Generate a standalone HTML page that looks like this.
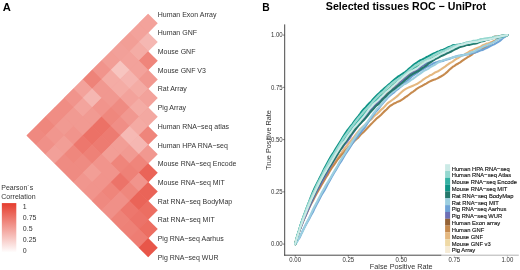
<!DOCTYPE html>
<html><head><meta charset="utf-8"><style>
html,body{margin:0;padding:0;background:#fff;width:520px;height:270px;overflow:hidden}
svg{display:block;will-change:transform;filter:blur(0.3px)}
text{font-family:"Liberation Sans",sans-serif;fill:#333}
.b{font-weight:bold;fill:#000}
.lg{fill:#111;stroke:#111;stroke-width:0.15px}
</style></head><body>
<svg width="520" height="270" viewBox="0 0 520 270" xmlns="http://www.w3.org/2000/svg">
<text x="2.8" y="10.9" class="b" font-size="11.2">A</text>
<polygon points="148.2,14.0 26.71,135.49 148.2,256.97" fill="#f1948c"/>
<polygon points="148.20,13.80 157.74,23.34 148.20,32.89 138.66,23.34" fill="#f3a29b"/>
<polygon points="138.85,23.14 148.40,32.69 138.85,42.23 129.31,32.69" fill="#f3a29b"/>
<polygon points="148.20,32.49 157.74,42.04 148.20,51.58 138.66,42.04" fill="#f5b7b2"/>
<polygon points="129.51,32.49 139.05,42.04 129.51,51.58 119.96,42.04" fill="#f29e96"/>
<polygon points="138.85,41.84 148.40,51.38 138.85,60.93 129.31,51.38" fill="#f4aca5"/>
<polygon points="148.20,51.18 157.74,60.73 148.20,70.27 138.66,60.73" fill="#ef857b"/>
<polygon points="120.16,41.84 129.71,51.38 120.16,60.93 110.62,51.38" fill="#f2a099"/>
<polygon points="129.51,51.18 139.05,60.73 129.51,70.27 119.96,60.73" fill="#f3a29b"/>
<polygon points="138.85,60.53 148.40,70.07 138.85,79.62 129.31,70.07" fill="#f3a29b"/>
<polygon points="148.20,69.87 157.74,79.42 148.20,88.96 138.66,79.42" fill="#f19890"/>
<polygon points="110.82,51.18 120.36,60.73 110.82,70.27 101.27,60.73" fill="#f29e96"/>
<polygon points="120.16,60.53 129.71,70.07 120.16,79.62 110.62,70.07" fill="#f7c5c0"/>
<polygon points="129.51,69.87 139.05,79.42 129.51,88.96 119.96,79.42" fill="#f5b5b0"/>
<polygon points="138.85,79.22 148.40,88.76 138.85,98.31 129.31,88.76" fill="#f4aca5"/>
<polygon points="148.20,88.56 157.74,98.11 148.20,107.65 138.66,98.11" fill="#f3a29b"/>
<polygon points="101.47,60.53 111.02,70.07 101.47,79.62 91.93,70.07" fill="#f1948c"/>
<polygon points="110.82,69.87 120.36,79.42 110.82,88.96 101.27,79.42" fill="#f4aca5"/>
<polygon points="120.16,79.22 129.71,88.76 120.16,98.31 110.62,88.76" fill="#f4aca5"/>
<polygon points="129.51,88.56 139.05,98.11 129.51,107.65 119.96,98.11" fill="#f3a29b"/>
<polygon points="138.85,97.91 148.40,107.45 138.85,117.00 129.31,107.45" fill="#f4aca5"/>
<polygon points="148.20,107.25 157.74,116.80 148.20,126.34 138.66,116.80" fill="#f3a8a1"/>
<polygon points="92.13,69.87 101.67,79.42 92.13,88.96 82.58,79.42" fill="#ee8379"/>
<polygon points="101.47,79.22 111.02,88.76 101.47,98.31 91.93,88.76" fill="#f19890"/>
<polygon points="110.82,88.56 120.36,98.11 110.82,107.65 101.27,98.11" fill="#f19890"/>
<polygon points="120.16,97.91 129.71,107.45 120.16,117.00 110.62,107.45" fill="#ef8b82"/>
<polygon points="129.51,107.25 139.05,116.80 129.51,126.34 119.96,116.80" fill="#f19890"/>
<polygon points="138.85,116.60 148.40,126.14 138.85,135.69 129.31,126.14" fill="#f4aaa3"/>
<polygon points="148.20,125.94 157.74,135.49 148.20,145.03 138.66,135.49" fill="#ef857b"/>
<polygon points="82.78,79.22 92.33,88.76 82.78,98.31 73.24,88.76" fill="#f3a29b"/>
<polygon points="92.13,88.56 101.67,98.11 92.13,107.65 82.58,98.11" fill="#f5b7b2"/>
<polygon points="101.47,97.91 111.02,107.45 101.47,117.00 91.93,107.45" fill="#f1948c"/>
<polygon points="110.82,107.25 120.36,116.80 110.82,126.34 101.27,116.80" fill="#ef877d"/>
<polygon points="120.16,116.60 129.71,126.14 120.16,135.69 110.62,126.14" fill="#f08e86"/>
<polygon points="129.51,125.94 139.05,135.49 129.51,145.03 119.96,135.49" fill="#f6b9b4"/>
<polygon points="138.85,135.29 148.40,144.83 138.85,154.38 129.31,144.83" fill="#f5b7b2"/>
<polygon points="148.20,144.63 157.74,154.18 148.20,163.72 138.66,154.18" fill="#f19890"/>
<polygon points="73.44,88.56 82.98,98.11 73.44,107.65 63.89,98.11" fill="#f1948c"/>
<polygon points="82.78,97.91 92.33,107.45 82.78,117.00 73.24,107.45" fill="#f3a49d"/>
<polygon points="92.13,107.25 101.67,116.80 92.13,126.34 82.58,116.80" fill="#f19a92"/>
<polygon points="101.47,116.60 111.02,126.14 101.47,135.69 91.93,126.14" fill="#ec7166"/>
<polygon points="110.82,125.94 120.36,135.49 110.82,145.03 101.27,135.49" fill="#ed7b71"/>
<polygon points="120.16,135.29 129.71,144.83 120.16,154.38 110.62,144.83" fill="#f29e96"/>
<polygon points="129.51,144.63 139.05,154.18 129.51,163.72 119.96,154.18" fill="#f19a92"/>
<polygon points="138.85,153.98 148.40,163.52 138.85,173.06 129.31,163.52" fill="#ef857b"/>
<polygon points="148.20,163.32 157.74,172.87 148.20,182.41 138.66,172.87" fill="#ea6458"/>
<polygon points="64.09,97.91 73.64,107.45 64.09,117.00 54.55,107.45" fill="#f08d84"/>
<polygon points="73.44,107.25 82.98,116.80 73.44,126.34 63.89,116.80" fill="#f19a92"/>
<polygon points="82.78,116.60 92.33,126.14 82.78,135.69 73.24,126.14" fill="#f19a92"/>
<polygon points="92.13,125.94 101.67,135.49 92.13,145.03 82.58,135.49" fill="#ec7166"/>
<polygon points="101.47,135.29 111.02,144.83 101.47,154.38 91.93,144.83" fill="#ed7b71"/>
<polygon points="110.82,144.63 120.36,154.18 110.82,163.72 101.27,154.18" fill="#f29e96"/>
<polygon points="120.16,153.98 129.71,163.52 120.16,173.06 110.62,163.52" fill="#ef857b"/>
<polygon points="129.51,163.32 139.05,172.87 129.51,182.41 119.96,172.87" fill="#ee8177"/>
<polygon points="138.85,172.67 148.40,182.21 138.85,191.75 129.31,182.21" fill="#f1948c"/>
<polygon points="148.20,182.01 157.74,191.56 148.20,201.10 138.66,191.56" fill="#ea6458"/>
<polygon points="54.75,107.25 64.29,116.80 54.75,126.34 45.20,116.80" fill="#f08d84"/>
<polygon points="64.09,116.60 73.64,126.14 64.09,135.69 54.55,126.14" fill="#f19a92"/>
<polygon points="73.44,125.94 82.98,135.49 73.44,145.03 63.89,135.49" fill="#f1948c"/>
<polygon points="82.78,135.29 92.33,144.83 82.78,154.38 73.24,144.83" fill="#ed776d"/>
<polygon points="92.13,144.63 101.67,154.18 92.13,163.72 82.58,154.18" fill="#ee8177"/>
<polygon points="101.47,153.98 111.02,163.52 101.47,173.06 91.93,163.52" fill="#f1948c"/>
<polygon points="110.82,163.32 120.36,172.87 110.82,182.41 101.27,172.87" fill="#f1948c"/>
<polygon points="120.16,172.67 129.71,182.21 120.16,191.75 110.62,182.21" fill="#ec7369"/>
<polygon points="129.51,182.01 139.05,191.56 129.51,201.10 119.96,191.56" fill="#ef877d"/>
<polygon points="138.85,191.36 148.40,200.90 138.85,210.44 129.31,200.90" fill="#ea6458"/>
<polygon points="148.20,200.70 157.74,210.25 148.20,219.79 138.66,210.25" fill="#ec6e62"/>
<polygon points="45.40,116.60 54.95,126.14 45.40,135.69 35.86,126.14" fill="#ef877d"/>
<polygon points="54.75,125.94 64.29,135.49 54.75,145.03 45.20,135.49" fill="#f1968e"/>
<polygon points="64.09,135.29 73.64,144.83 64.09,154.38 54.55,144.83" fill="#f29e96"/>
<polygon points="73.44,144.63 82.98,154.18 73.44,163.72 63.89,154.18" fill="#ef877d"/>
<polygon points="82.78,153.98 92.33,163.52 82.78,173.06 73.24,163.52" fill="#ef8b82"/>
<polygon points="92.13,163.32 101.67,172.87 92.13,182.41 82.58,172.87" fill="#f29e96"/>
<polygon points="101.47,172.67 111.02,182.21 101.47,191.75 91.93,182.21" fill="#f1948c"/>
<polygon points="110.82,182.01 120.36,191.56 110.82,201.10 101.27,191.56" fill="#ef857b"/>
<polygon points="120.16,191.36 129.71,200.90 120.16,210.44 110.62,200.90" fill="#f09088"/>
<polygon points="129.51,200.70 139.05,210.25 129.51,219.79 119.96,210.25" fill="#ed776d"/>
<polygon points="138.85,210.05 148.40,219.59 138.85,229.13 129.31,219.59" fill="#ec7369"/>
<polygon points="148.20,219.39 157.74,228.94 148.20,238.48 138.66,228.94" fill="#ec6e62"/>
<polygon points="36.06,125.94 45.60,135.49 36.06,145.03 26.51,135.49" fill="#ef8980"/>
<polygon points="45.40,135.29 54.95,144.83 45.40,154.38 35.86,144.83" fill="#f09088"/>
<polygon points="54.75,144.63 64.29,154.18 54.75,163.72 45.20,154.18" fill="#f2a099"/>
<polygon points="64.09,153.98 73.64,163.52 64.09,173.06 54.55,163.52" fill="#ef8b82"/>
<polygon points="73.44,163.32 82.98,172.87 73.44,182.41 63.89,172.87" fill="#ef8b82"/>
<polygon points="82.78,172.67 92.33,182.21 82.78,191.75 73.24,182.21" fill="#f1968e"/>
<polygon points="92.13,182.01 101.67,191.56 92.13,201.10 82.58,191.56" fill="#f1948c"/>
<polygon points="101.47,191.36 111.02,200.90 101.47,210.44 91.93,200.90" fill="#ef8980"/>
<polygon points="110.82,200.70 120.36,210.25 110.82,219.79 101.27,210.25" fill="#f09088"/>
<polygon points="120.16,210.05 129.71,219.59 120.16,229.13 110.62,219.59" fill="#ee8379"/>
<polygon points="129.51,219.39 139.05,228.94 129.51,238.48 119.96,228.94" fill="#ee8177"/>
<polygon points="138.85,228.74 148.40,238.28 138.85,247.83 129.31,238.28" fill="#ee7d73"/>
<polygon points="148.20,238.08 157.74,247.63 148.20,257.17 138.66,247.63" fill="#e85649"/>
<text x="157.7" y="16.70" font-size="7.56" textLength="58.75" lengthAdjust="spacingAndGlyphs">Human Exon Array</text>
<text x="157.7" y="35.39" font-size="7.56" textLength="39.29" lengthAdjust="spacingAndGlyphs">Human GNF</text>
<text x="157.7" y="54.08" font-size="7.56" textLength="37.73" lengthAdjust="spacingAndGlyphs">Mouse GNF</text>
<text x="157.7" y="72.77" font-size="7.56" textLength="48.24" lengthAdjust="spacingAndGlyphs">Mouse GNF V3</text>
<text x="157.7" y="91.46" font-size="7.56" textLength="29.18" lengthAdjust="spacingAndGlyphs">Rat Array</text>
<text x="157.7" y="110.15" font-size="7.56" textLength="28.40" lengthAdjust="spacingAndGlyphs">Pig Array</text>
<text x="157.7" y="128.84" font-size="7.56" textLength="71.40" lengthAdjust="spacingAndGlyphs">Human RNA−seq atlas</text>
<text x="157.7" y="147.53" font-size="7.56" textLength="70.10" lengthAdjust="spacingAndGlyphs">Human HPA RNA−seq</text>
<text x="157.7" y="166.22" font-size="7.56" textLength="78.80" lengthAdjust="spacingAndGlyphs">Mouse RNA−seq Encode</text>
<text x="157.7" y="184.91" font-size="7.56" textLength="67.11" lengthAdjust="spacingAndGlyphs">Mouse RNA−seq MIT</text>
<text x="157.7" y="203.60" font-size="7.56" textLength="74.51" lengthAdjust="spacingAndGlyphs">Rat RNA−seq BodyMap</text>
<text x="157.7" y="222.29" font-size="7.56" textLength="56.99" lengthAdjust="spacingAndGlyphs">Rat RNA−seq MIT</text>
<text x="157.7" y="240.98" font-size="7.56" textLength="65.96" lengthAdjust="spacingAndGlyphs">Pig RNA−seq Aarhus</text>
<text x="157.7" y="259.67" font-size="7.56" textLength="60.88" lengthAdjust="spacingAndGlyphs">Pig RNA−seq WUR</text>
<text x="1.3" y="189.8" font-size="7.56" textLength="31.90" lengthAdjust="spacingAndGlyphs">Pearson´s</text>
<text x="1.3" y="198.5" font-size="7.56" textLength="34.24" lengthAdjust="spacingAndGlyphs">Correlation</text>
<defs><linearGradient id="g" x1="0" y1="0" x2="0" y2="1"><stop offset="0" stop-color="#e53d2e"/><stop offset="1" stop-color="#ffffff"/></linearGradient></defs>
<rect x="1.85" y="203.1" width="14.45" height="49.50" fill="url(#g)"/>
<text x="22.8" y="208.85" font-size="7.56" textLength="3.89" lengthAdjust="spacingAndGlyphs" fill="#4d4d4d">1</text>
<text x="22.8" y="220.00" font-size="7.56" textLength="13.62" lengthAdjust="spacingAndGlyphs" fill="#4d4d4d">0.75</text>
<text x="22.8" y="231.15" font-size="7.56" textLength="9.73" lengthAdjust="spacingAndGlyphs" fill="#4d4d4d">0.5</text>
<text x="22.8" y="242.30" font-size="7.56" textLength="13.62" lengthAdjust="spacingAndGlyphs" fill="#4d4d4d">0.25</text>
<text x="22.8" y="253.45" font-size="7.56" textLength="3.89" lengthAdjust="spacingAndGlyphs" fill="#4d4d4d">0</text>
<text x="262.3" y="11.1" class="b" font-size="10.3">B</text>
<text x="325.8" y="9.5" class="b" font-size="10.63">Selected tissues ROC − UniProt</text>
<line x1="284.7" y1="24.4" x2="284.7" y2="255.7" stroke="#333" stroke-width="0.9"/>
<line x1="284.25" y1="255.2" x2="441.5" y2="255.2" stroke="#333" stroke-width="0.9"/>
<line x1="441.5" y1="255.2" x2="518.8" y2="255.2" stroke="#aaa" stroke-width="0.9"/>
<line x1="282.7" y1="244.10" x2="284.7" y2="244.10" stroke="#333" stroke-width="0.6"/>
<text x="282.6" y="246.35" font-size="6.48" textLength="11.68" lengthAdjust="spacingAndGlyphs" text-anchor="end" fill="#4d4d4d">0.00</text>
<line x1="295.20" y1="255.2" x2="295.20" y2="256.8" stroke="#333" stroke-width="0.6"/>
<text x="295.20" y="262.0" font-size="6.48" textLength="11.68" lengthAdjust="spacingAndGlyphs" text-anchor="middle" fill="#4d4d4d">0.00</text>
<line x1="282.7" y1="191.85" x2="284.7" y2="191.85" stroke="#333" stroke-width="0.6"/>
<text x="282.6" y="194.10" font-size="6.48" textLength="11.68" lengthAdjust="spacingAndGlyphs" text-anchor="end" fill="#4d4d4d">0.25</text>
<line x1="348.25" y1="255.2" x2="348.25" y2="256.8" stroke="#333" stroke-width="0.6"/>
<text x="348.25" y="262.0" font-size="6.48" textLength="11.68" lengthAdjust="spacingAndGlyphs" text-anchor="middle" fill="#4d4d4d">0.25</text>
<line x1="282.7" y1="139.60" x2="284.7" y2="139.60" stroke="#333" stroke-width="0.6"/>
<text x="282.6" y="141.85" font-size="6.48" textLength="11.68" lengthAdjust="spacingAndGlyphs" text-anchor="end" fill="#4d4d4d">0.50</text>
<line x1="401.30" y1="255.2" x2="401.30" y2="256.8" stroke="#333" stroke-width="0.6"/>
<text x="401.30" y="262.0" font-size="6.48" textLength="11.68" lengthAdjust="spacingAndGlyphs" text-anchor="middle" fill="#4d4d4d">0.50</text>
<line x1="282.7" y1="87.35" x2="284.7" y2="87.35" stroke="#333" stroke-width="0.6"/>
<text x="282.6" y="89.60" font-size="6.48" textLength="11.68" lengthAdjust="spacingAndGlyphs" text-anchor="end" fill="#4d4d4d">0.75</text>
<line x1="454.35" y1="255.2" x2="454.35" y2="256.8" stroke="#aaa" stroke-width="0.6"/>
<text x="454.35" y="262.0" font-size="6.48" textLength="11.68" lengthAdjust="spacingAndGlyphs" text-anchor="middle" fill="#4d4d4d">0.75</text>
<line x1="282.7" y1="35.10" x2="284.7" y2="35.10" stroke="#333" stroke-width="0.6"/>
<text x="282.6" y="37.35" font-size="6.48" textLength="11.68" lengthAdjust="spacingAndGlyphs" text-anchor="end" fill="#4d4d4d">1.00</text>
<line x1="507.40" y1="255.2" x2="507.40" y2="256.8" stroke="#aaa" stroke-width="0.6"/>
<text x="507.40" y="262.0" font-size="6.48" textLength="11.68" lengthAdjust="spacingAndGlyphs" text-anchor="middle" fill="#4d4d4d">1.00</text>
<text x="401.2" y="268.6" font-size="7.88" textLength="62.89" lengthAdjust="spacingAndGlyphs" text-anchor="middle">False Positive Rate</text>
<text transform="translate(270.8,140) rotate(-90)" font-size="7.88" textLength="59.78" lengthAdjust="spacingAndGlyphs" text-anchor="middle">True Positive Rate</text>
<polyline points="295.20,244.10 295.78,242.15 296.36,239.82 296.94,237.82 297.51,235.86 298.09,233.29 298.67,231.34 299.25,229.24 299.83,227.48 300.41,225.71 300.99,224.75 301.57,223.19 303.45,217.85 305.34,212.91 307.23,207.93 309.12,203.29 311.01,198.88 312.90,194.53 314.78,190.36 316.67,186.70 318.56,182.91 320.45,179.15 322.34,175.51 324.23,172.16 326.12,168.73 328.00,165.23 329.89,162.25 331.78,159.48 333.67,156.21 335.56,153.08 337.45,150.30 339.33,147.17 341.22,144.79 343.11,142.02 345.00,139.59 346.89,137.26 348.78,134.75 350.66,131.63 352.55,129.40 354.44,127.00 356.33,124.34 358.22,122.07 360.11,119.67 361.99,117.23 363.88,114.82 365.77,112.49 367.66,110.40 369.55,108.72 371.44,106.72 373.32,104.66 375.21,102.93 377.10,101.10 378.99,99.03 380.88,97.70 382.77,95.87 384.65,93.97 386.54,92.37 388.43,90.69 390.32,88.75 392.21,87.09 394.10,85.90 395.99,84.19 397.87,82.53 399.76,80.65 401.65,79.64 403.54,77.92 405.43,76.28 407.32,75.09 409.20,73.64 411.09,72.12 412.98,70.65 414.87,69.58 416.76,67.97 418.65,67.00 420.53,65.64 422.42,64.79 424.31,63.16 426.20,62.13 428.09,60.88 429.98,59.53 431.86,58.12 433.75,57.46 435.64,56.70 437.53,55.96 439.42,54.94 441.31,54.30 443.19,53.36 445.08,52.38 446.97,51.32 448.86,50.60 450.75,49.72 452.64,49.10 454.53,48.26 456.41,47.32 458.30,46.54 460.19,45.57 462.08,44.64 463.97,43.91 465.86,43.61 467.74,43.21 469.63,42.99 471.52,42.52 473.41,42.20 475.30,41.67 477.19,41.38 479.07,40.43 480.96,39.81 482.85,39.15 484.74,39.18 486.63,38.89 488.52,39.02 490.40,38.79 492.29,39.03 494.18,38.10 496.07,37.47 497.96,37.20 499.85,37.06 501.73,36.42 503.62,36.21 505.51,35.89 507.40,35.10" fill="none" stroke="#f6ebd5" stroke-width="2.1" stroke-linejoin="round" stroke-linecap="round"/>
<polyline points="295.20,244.10 295.78,241.01 296.36,239.19 296.94,237.22 297.51,235.70 298.09,233.68 298.67,231.96 299.25,230.04 299.83,228.33 300.41,226.40 300.99,225.08 301.57,223.70 303.45,218.37 305.34,212.94 307.23,208.33 309.12,203.77 311.01,199.43 312.90,195.51 314.78,191.75 316.67,187.60 318.56,183.66 320.45,179.67 322.34,175.80 324.23,172.32 326.12,169.27 328.00,165.99 329.89,162.74 331.78,159.69 333.67,156.67 335.56,153.49 337.45,150.49 339.33,147.44 341.22,144.52 343.11,141.67 345.00,138.67 346.89,135.82 348.78,133.06 350.66,130.78 352.55,128.09 354.44,125.84 356.33,123.51 358.22,121.29 360.11,118.44 361.99,116.14 363.88,113.80 365.77,111.37 367.66,109.42 369.55,107.52 371.44,105.51 373.32,103.61 375.21,101.53 377.10,99.38 378.99,97.09 380.88,95.36 382.77,93.50 384.65,92.04 386.54,90.33 388.43,89.07 390.32,87.31 392.21,85.59 394.10,83.72 395.99,82.37 397.87,80.53 399.76,79.18 401.65,77.83 403.54,76.76 405.43,75.41 407.32,74.15 409.20,72.49 411.09,70.95 412.98,69.41 414.87,67.64 416.76,66.36 418.65,65.26 420.53,64.12 422.42,63.31 424.31,62.30 426.20,61.50 428.09,60.32 429.98,59.20 431.86,57.69 433.75,56.79 435.64,55.63 437.53,54.70 439.42,53.84 441.31,53.13 443.19,52.20 445.08,51.20 446.97,50.44 448.86,49.65 450.75,48.84 452.64,48.41 454.53,47.65 456.41,47.08 458.30,46.03 460.19,45.09 462.08,44.38 463.97,43.68 465.86,43.00 467.74,43.00 469.63,42.76 471.52,42.15 473.41,42.11 475.30,41.77 477.19,41.25 479.07,40.96 480.96,40.73 482.85,39.97 484.74,39.44 486.63,39.24 488.52,39.01 490.40,38.45 492.29,38.29 494.18,37.76 496.07,37.17 497.96,36.86 499.85,36.62 501.73,36.17 503.62,35.72 505.51,35.42 507.40,35.10" fill="none" stroke="#efd9a5" stroke-width="2.1" stroke-linejoin="round" stroke-linecap="round"/>
<polyline points="295.20,244.10 295.78,241.69 296.36,239.62 296.94,238.25 297.51,235.96 298.09,234.22 298.67,232.40 299.25,230.87 299.83,229.06 300.41,227.59 300.99,225.79 301.57,224.14 303.45,219.06 305.34,214.39 307.23,210.30 309.12,206.36 311.01,202.59 312.90,199.15 314.78,195.59 316.67,191.87 318.56,188.53 320.45,185.33 322.34,181.92 324.23,178.52 326.12,175.65 328.00,172.65 329.89,169.63 331.78,166.63 333.67,164.40 335.56,161.51 337.45,158.55 339.33,155.98 341.22,153.30 343.11,150.31 345.00,147.92 346.89,145.60 348.78,143.28 350.66,141.24 352.55,138.70 354.44,136.49 356.33,134.00 358.22,131.60 360.11,129.25 361.99,127.51 363.88,125.75 365.77,124.22 367.66,122.28 369.55,120.79 371.44,119.20 373.32,116.97 375.21,115.23 377.10,113.80 378.99,112.00 380.88,109.92 382.77,108.39 384.65,106.49 386.54,104.34 388.43,102.64 390.32,101.41 392.21,99.99 394.10,98.61 395.99,97.18 397.87,95.61 399.76,93.78 401.65,92.08 403.54,90.40 405.43,89.20 407.32,88.11 409.20,87.32 411.09,86.50 412.98,85.68 414.87,84.88 416.76,84.09 418.65,82.88 420.53,81.72 422.42,80.20 424.31,78.84 426.20,77.70 428.09,76.54 429.98,75.28 431.86,74.67 433.75,73.41 435.64,72.20 437.53,71.62 439.42,70.34 441.31,69.14 443.19,67.87 445.08,66.64 446.97,65.11 448.86,63.77 450.75,62.65 452.64,61.67 454.53,60.15 456.41,58.79 458.30,57.96 460.19,56.68 462.08,55.53 463.97,54.88 465.86,53.78 467.74,52.67 469.63,51.32 471.52,50.55 473.41,49.62 475.30,48.66 477.19,47.90 479.07,47.33 480.96,46.36 482.85,45.13 484.74,44.49 486.63,43.58 488.52,43.21 490.40,42.55 492.29,41.66 494.18,40.86 496.07,40.16 497.96,39.15 499.85,38.14 501.73,37.60 503.62,36.94 505.51,35.98 507.40,35.10" fill="none" stroke="#e5b880" stroke-width="2.1" stroke-linejoin="round" stroke-linecap="round"/>
<polyline points="295.20,244.10 295.78,242.10 296.36,240.20 296.94,238.52 297.51,236.84 298.09,234.87 298.67,232.95 299.25,230.98 299.83,229.34 300.41,227.70 300.99,226.65 301.57,225.21 303.45,220.67 305.34,216.38 307.23,212.08 309.12,207.83 311.01,204.11 312.90,200.70 314.78,196.93 316.67,193.53 318.56,190.14 320.45,186.98 322.34,183.61 324.23,180.43 326.12,177.31 328.00,174.36 329.89,170.99 331.78,167.92 333.67,165.28 335.56,162.61 337.45,159.79 339.33,157.52 341.22,155.30 343.11,153.34 345.00,151.04 346.89,149.07 348.78,146.75 350.66,145.20 352.55,142.97 354.44,141.10 356.33,139.27 358.22,137.62 360.11,135.25 361.99,133.36 363.88,131.70 365.77,129.74 367.66,127.69 369.55,125.68 371.44,123.85 373.32,121.86 375.21,119.93 377.10,118.06 378.99,116.59 380.88,114.94 382.77,112.93 384.65,111.12 386.54,109.44 388.43,107.49 390.32,105.72 392.21,104.75 394.10,103.42 395.99,102.68 397.87,101.67 399.76,100.98 401.65,99.85 403.54,98.63 405.43,97.11 407.32,96.03 409.20,94.54 411.09,92.97 412.98,91.77 414.87,90.38 416.76,88.78 418.65,87.61 420.53,86.65 422.42,85.70 424.31,84.54 426.20,83.63 428.09,82.39 429.98,81.42 431.86,80.49 433.75,79.73 435.64,79.15 437.53,78.36 439.42,77.28 441.31,76.28 443.19,75.18 445.08,73.75 446.97,72.13 448.86,70.27 450.75,68.58 452.64,66.97 454.53,65.76 456.41,64.49 458.30,63.48 460.19,62.30 462.08,60.90 463.97,59.54 465.86,58.40 467.74,57.18 469.63,56.04 471.52,54.88 473.41,53.31 475.30,52.39 477.19,51.55 479.07,50.15 480.96,49.22 482.85,48.53 484.74,47.29 486.63,46.02 488.52,45.11 490.40,43.94 492.29,42.65 494.18,41.31 496.07,40.07 497.96,38.95 499.85,37.95 501.73,36.84 503.62,36.08 505.51,35.58 507.40,35.10" fill="none" stroke="#c68a4e" stroke-width="2.1" stroke-linejoin="round" stroke-linecap="round"/>
<polyline points="295.20,244.10 295.78,241.33 296.36,239.62 296.94,237.81 297.51,236.03 298.09,234.39 298.67,232.92 299.25,231.27 299.83,229.53 300.41,227.64 300.99,226.04 301.57,224.50 303.45,219.58 305.34,214.79 307.23,210.77 309.12,206.44 311.01,202.23 312.90,198.01 314.78,194.16 316.67,190.18 318.56,186.46 320.45,182.71 322.34,178.99 324.23,175.46 326.12,171.95 328.00,168.42 329.89,165.42 331.78,162.55 333.67,159.55 335.56,156.50 337.45,153.61 339.33,150.75 341.22,147.67 343.11,144.55 345.00,141.91 346.89,139.16 348.78,136.29 350.66,133.77 352.55,131.77 354.44,128.98 356.33,126.70 358.22,124.15 360.11,121.93 361.99,119.45 363.88,117.49 365.77,115.05 367.66,113.24 369.55,111.18 371.44,109.11 373.32,107.32 375.21,105.24 377.10,103.02 378.99,101.02 380.88,98.84 382.77,96.85 384.65,95.24 386.54,93.25 388.43,91.31 390.32,90.15 392.21,88.84 394.10,87.33 395.99,85.80 397.87,84.44 399.76,82.53 401.65,80.32 403.54,78.78 405.43,77.44 407.32,75.77 409.20,74.22 411.09,72.86 412.98,71.44 414.87,70.04 416.76,68.93 418.65,67.50 420.53,65.88 422.42,64.66 424.31,63.90 426.20,62.72 428.09,61.72 429.98,60.84 431.86,59.43 433.75,58.11 435.64,57.12 437.53,55.94 439.42,55.29 441.31,54.31 443.19,53.26 445.08,52.06 446.97,51.25 448.86,50.05 450.75,49.23 452.64,48.52 454.53,47.78 456.41,47.11 458.30,46.42 460.19,45.61 462.08,44.77 463.97,44.24 465.86,43.82 467.74,43.53 469.63,43.21 471.52,42.91 473.41,42.20 475.30,41.64 477.19,41.23 479.07,41.18 480.96,40.61 482.85,40.29 484.74,40.24 486.63,39.61 488.52,38.71 490.40,38.30 492.29,37.94 494.18,36.85 496.07,36.45 497.96,36.48 499.85,36.14 501.73,35.85 503.62,35.89 505.51,36.09 507.40,35.10" fill="none" stroke="#946236" stroke-width="2.1" stroke-linejoin="round" stroke-linecap="round"/>
<polyline points="295.20,244.10 295.78,242.18 296.36,240.25 296.94,238.20 297.51,236.65 298.09,234.66 298.67,232.82 299.25,231.36 299.83,229.74 300.41,228.25 300.99,226.76 301.57,225.37 303.45,220.38 305.34,216.23 307.23,211.78 309.12,207.48 311.01,203.21 312.90,199.25 314.78,195.21 316.67,191.18 318.56,187.89 320.45,184.49 322.34,181.00 324.23,177.62 326.12,174.45 328.00,170.94 329.89,167.56 331.78,164.43 333.67,160.93 335.56,157.62 337.45,154.45 339.33,151.54 341.22,148.74 343.11,146.48 345.00,143.98 346.89,141.86 348.78,139.32 350.66,136.54 352.55,133.49 354.44,130.79 356.33,128.15 358.22,125.58 360.11,123.49 361.99,121.32 363.88,119.24 365.77,116.73 367.66,114.19 369.55,111.76 371.44,109.41 373.32,107.29 375.21,105.46 377.10,103.67 378.99,101.58 380.88,100.14 382.77,98.27 384.65,96.60 386.54,95.03 388.43,93.39 390.32,91.55 392.21,89.94 394.10,88.24 395.99,86.48 397.87,84.87 399.76,83.15 401.65,81.45 403.54,79.88 405.43,78.14 407.32,76.80 409.20,75.47 411.09,73.97 412.98,72.72 414.87,71.65 416.76,70.32 418.65,68.92 420.53,67.53 422.42,65.83 424.31,64.89 426.20,63.71 428.09,62.55 429.98,61.60 431.86,60.76 433.75,59.62 435.64,58.39 437.53,57.31 439.42,56.31 441.31,55.37 443.19,53.81 445.08,53.43 446.97,52.61 448.86,51.35 450.75,50.20 452.64,49.60 454.53,48.47 456.41,47.37 458.30,47.14 460.19,46.30 462.08,45.57 463.97,44.83 465.86,44.35 467.74,43.95 469.63,43.70 471.52,43.31 473.41,42.80 475.30,42.45 477.19,41.65 479.07,41.17 480.96,40.85 482.85,40.45 484.74,40.18 486.63,39.79 488.52,39.36 490.40,38.79 492.29,38.31 494.18,37.97 496.07,37.55 497.96,37.28 499.85,36.93 501.73,36.26 503.62,35.89 505.51,35.63 507.40,35.10" fill="none" stroke="#6e6fb5" stroke-width="2.1" stroke-linejoin="round" stroke-linecap="round"/>
<polyline points="295.20,244.10 295.78,243.54 296.36,242.48 296.94,241.46 297.51,240.45 298.09,239.54 298.67,238.91 299.25,238.20 299.83,237.20 300.41,235.80 300.99,234.56 301.57,233.38 303.45,229.18 305.34,225.63 307.23,222.29 309.12,218.87 311.01,215.28 312.90,211.94 314.78,207.91 316.67,204.24 318.56,200.66 320.45,197.07 322.34,193.57 324.23,190.75 326.12,187.28 328.00,183.62 329.89,180.14 331.78,176.71 333.67,173.39 335.56,170.50 337.45,167.24 339.33,163.99 341.22,161.27 343.11,157.99 345.00,154.71 346.89,151.89 348.78,149.13 350.66,146.09 352.55,143.27 354.44,140.47 356.33,137.83 358.22,135.48 360.11,133.24 361.99,130.79 363.88,128.51 365.77,125.93 367.66,123.01 369.55,120.01 371.44,117.53 373.32,114.87 375.21,112.39 377.10,110.33 378.99,107.97 380.88,105.57 382.77,103.36 384.65,101.17 386.54,99.02 388.43,96.91 390.32,95.22 392.21,93.59 394.10,92.28 395.99,90.42 397.87,89.12 399.76,87.39 401.65,85.92 403.54,84.07 405.43,82.36 407.32,80.71 409.20,78.99 411.09,77.25 412.98,75.58 414.87,74.37 416.76,73.16 418.65,71.71 420.53,70.38 422.42,69.53 424.31,68.35 426.20,67.15 428.09,66.33 429.98,65.53 431.86,64.25 433.75,63.24 435.64,62.51 437.53,62.05 439.42,61.34 441.31,61.31 443.19,60.88 445.08,60.09 446.97,59.49 448.86,59.05 450.75,58.23 452.64,57.58 454.53,56.92 456.41,56.38 458.30,55.72 460.19,55.46 462.08,55.15 463.97,55.08 465.86,54.49 467.74,54.35 469.63,53.90 471.52,53.46 473.41,52.68 475.30,52.50 477.19,51.80 479.07,51.01 480.96,50.33 482.85,49.89 484.74,48.90 486.63,48.07 488.52,47.00 490.40,46.00 492.29,45.07 494.18,44.38 496.07,43.18 497.96,42.02 499.85,40.84 501.73,39.18 503.62,37.56 505.51,36.44 507.40,35.10" fill="none" stroke="#6fa3d6" stroke-width="2.1" stroke-linejoin="round" stroke-linecap="round"/>
<polyline points="295.20,244.10 295.78,243.44 296.36,242.85 296.94,241.82 297.51,240.98 298.09,239.63 298.67,238.69 299.25,237.60 299.83,236.53 300.41,235.45 300.99,234.26 301.57,233.42 303.45,229.74 305.34,225.68 307.23,221.49 309.12,217.99 311.01,213.81 312.90,209.81 314.78,206.06 316.67,202.59 318.56,198.66 320.45,195.18 322.34,191.51 324.23,188.36 326.12,184.75 328.00,181.83 329.89,178.74 331.78,175.60 333.67,172.28 335.56,169.13 337.45,165.91 339.33,162.25 341.22,159.24 343.11,156.24 345.00,153.29 346.89,150.00 348.78,147.48 350.66,144.53 352.55,141.17 354.44,138.27 356.33,135.68 358.22,132.95 360.11,130.29 361.99,128.28 363.88,126.36 365.77,123.95 367.66,121.55 369.55,118.91 371.44,116.24 373.32,113.53 375.21,111.29 377.10,108.73 378.99,106.93 380.88,104.88 382.77,102.56 384.65,100.21 386.54,98.22 388.43,96.15 390.32,94.13 392.21,92.30 394.10,91.16 395.99,89.40 397.87,88.12 399.76,86.90 401.65,86.11 403.54,84.60 405.43,83.81 407.32,82.61 409.20,81.43 411.09,79.90 412.98,78.79 414.87,77.47 416.76,75.99 418.65,74.63 420.53,73.42 422.42,71.95 424.31,70.65 426.20,69.70 428.09,68.84 429.98,67.42 431.86,66.38 433.75,65.31 435.64,64.26 437.53,62.88 439.42,61.97 441.31,61.12 443.19,60.30 445.08,59.64 446.97,58.98 448.86,58.58 450.75,58.17 452.64,57.54 454.53,56.83 456.41,56.53 458.30,56.12 460.19,55.60 462.08,55.41 463.97,54.85 465.86,54.40 467.74,54.05 469.63,52.97 471.52,52.23 473.41,51.65 475.30,50.92 477.19,49.75 479.07,49.00 480.96,47.98 482.85,46.78 484.74,45.98 486.63,45.24 488.52,44.58 490.40,43.71 492.29,42.85 494.18,42.02 496.07,40.51 497.96,39.65 499.85,38.66 501.73,37.66 503.62,36.24 505.51,35.77 507.40,35.10" fill="none" stroke="#9ccfe0" stroke-width="2.1" stroke-linejoin="round" stroke-linecap="round"/>
<polyline points="295.20,244.10 295.78,241.97 296.36,239.84 296.94,237.81 297.51,235.73 298.09,233.50 298.67,232.10 299.25,230.49 299.83,228.61 300.41,226.84 300.99,225.00 301.57,223.22 303.45,218.29 305.34,213.56 307.23,209.27 309.12,205.38 311.01,201.05 312.90,197.04 314.78,193.21 316.67,189.25 318.56,185.58 320.45,182.12 322.34,178.54 324.23,175.22 326.12,171.98 328.00,168.73 329.89,166.08 331.78,163.15 333.67,160.30 335.56,157.30 337.45,154.27 339.33,151.20 341.22,148.40 343.11,145.33 345.00,142.66 346.89,140.06 348.78,137.36 350.66,134.93 352.55,132.74 354.44,130.44 356.33,128.18 358.22,125.89 360.11,123.77 361.99,121.80 363.88,120.00 365.77,117.91 367.66,115.63 369.55,113.18 371.44,111.03 373.32,109.01 375.21,106.84 377.10,105.06 378.99,103.59 380.88,101.38 382.77,99.26 384.65,97.38 386.54,95.63 388.43,93.51 390.32,91.93 392.21,90.44 394.10,89.05 395.99,87.60 397.87,86.02 399.76,84.68 401.65,83.24 403.54,81.58 405.43,79.79 407.32,78.23 409.20,76.45 411.09,75.04 412.98,73.90 414.87,72.83 416.76,71.75 418.65,70.99 420.53,69.46 422.42,68.04 424.31,66.88 426.20,65.65 428.09,63.91 429.98,62.74 431.86,61.47 433.75,60.03 435.64,58.89 437.53,57.96 439.42,56.98 441.31,55.93 443.19,55.18 445.08,54.39 446.97,53.38 448.86,52.51 450.75,51.73 452.64,50.59 454.53,49.59 456.41,48.85 458.30,47.75 460.19,46.89 462.08,46.55 463.97,46.02 465.86,45.21 467.74,44.83 469.63,44.85 471.52,44.35 473.41,43.67 475.30,43.59 477.19,43.12 479.07,42.30 480.96,41.53 482.85,41.27 484.74,40.54 486.63,39.83 488.52,39.51 490.40,38.91 492.29,38.09 494.18,37.62 496.07,37.50 497.96,37.10 499.85,37.01 501.73,36.58 503.62,36.06 505.51,35.39 507.40,35.10" fill="none" stroke="#25786c" stroke-width="2.1" stroke-linejoin="round" stroke-linecap="round"/>
<polyline points="295.20,244.10 295.78,241.85 296.36,239.78 296.94,237.52 297.51,235.73 298.09,233.78 298.67,232.02 299.25,229.89 299.83,227.89 300.41,225.79 300.99,223.80 301.57,222.06 303.45,216.89 305.34,211.56 307.23,206.35 309.12,201.56 311.01,196.72 312.90,191.83 314.78,187.68 316.67,183.99 318.56,180.31 320.45,176.38 322.34,172.79 324.23,168.82 326.12,165.29 328.00,161.79 329.89,158.30 331.78,155.01 333.67,152.30 335.56,149.14 337.45,146.13 339.33,143.07 341.22,139.99 343.11,136.87 345.00,133.94 346.89,130.96 348.78,128.54 350.66,126.17 352.55,123.79 354.44,121.19 356.33,118.71 358.22,116.36 360.11,113.80 361.99,111.11 363.88,109.06 365.77,107.28 367.66,104.98 369.55,102.91 371.44,101.22 373.32,99.05 375.21,96.94 377.10,95.11 378.99,93.37 380.88,91.39 382.77,89.83 384.65,88.16 386.54,86.51 388.43,84.86 390.32,83.23 392.21,81.44 394.10,79.82 395.99,78.27 397.87,76.77 399.76,75.68 401.65,74.43 403.54,73.06 405.43,71.81 407.32,70.36 409.20,68.63 411.09,67.07 412.98,65.39 414.87,63.87 416.76,62.73 418.65,61.44 420.53,60.20 422.42,59.46 424.31,58.54 426.20,57.27 428.09,56.48 429.98,55.51 431.86,54.39 433.75,53.38 435.64,52.69 437.53,51.77 439.42,51.13 441.31,50.23 443.19,49.81 445.08,48.90 446.97,47.98 448.86,47.07 450.75,46.46 452.64,45.38 454.53,44.93 456.41,44.91 458.30,44.71 460.19,44.37 462.08,43.94 463.97,43.58 465.86,42.91 467.74,42.76 469.63,42.50 471.52,42.31 473.41,41.60 475.30,41.51 477.19,41.25 479.07,40.68 480.96,40.32 482.85,40.33 484.74,40.05 486.63,39.44 488.52,39.13 490.40,38.66 492.29,38.36 494.18,37.44 496.07,36.97 497.96,36.69 499.85,36.33 501.73,35.70 503.62,35.33 505.51,35.10 507.40,35.10" fill="none" stroke="#0f9486" stroke-width="2.1" stroke-linejoin="round" stroke-linecap="round"/>
<polyline points="295.20,244.10 295.78,241.35 296.36,238.99 296.94,236.81 297.51,234.72 298.09,232.97 298.67,231.49 299.25,229.53 299.83,227.70 300.41,226.11 300.99,223.99 301.57,222.25 303.45,217.11 305.34,212.36 307.23,207.92 309.12,203.23 311.01,198.92 312.90,194.81 314.78,190.28 316.67,185.86 318.56,182.35 320.45,178.59 322.34,174.89 324.23,171.79 326.12,168.47 328.00,165.05 329.89,161.70 331.78,158.41 333.67,155.06 335.56,151.83 337.45,148.67 339.33,146.11 341.22,143.28 343.11,140.84 345.00,138.70 346.89,136.20 348.78,133.46 350.66,131.14 352.55,128.31 354.44,125.76 356.33,123.66 358.22,121.16 360.11,118.63 361.99,116.49 363.88,114.45 365.77,112.26 367.66,110.23 369.55,108.05 371.44,105.97 373.32,103.58 375.21,101.32 377.10,99.44 378.99,97.81 380.88,96.04 382.77,94.54 384.65,92.98 386.54,91.10 388.43,89.66 390.32,87.94 392.21,86.01 394.10,84.23 395.99,82.88 397.87,81.14 399.76,79.52 401.65,78.03 403.54,76.88 405.43,75.29 407.32,73.68 409.20,72.56 411.09,71.29 412.98,69.42 414.87,68.17 416.76,67.17 418.65,66.09 420.53,65.06 422.42,64.06 424.31,62.92 426.20,61.97 428.09,60.85 429.98,59.66 431.86,58.72 433.75,57.79 435.64,56.46 437.53,55.40 439.42,54.38 441.31,53.48 443.19,52.34 445.08,51.64 446.97,50.72 448.86,49.85 450.75,49.33 452.64,48.60 454.53,47.67 456.41,46.71 458.30,46.07 460.19,45.17 462.08,44.48 463.97,44.03 465.86,43.71 467.74,43.25 469.63,42.79 471.52,42.61 473.41,42.16 475.30,42.09 477.19,41.64 479.07,41.40 480.96,40.80 482.85,40.55 484.74,39.82 486.63,39.50 488.52,38.86 490.40,38.75 492.29,38.04 494.18,37.67 496.07,37.49 497.96,37.19 499.85,36.63 501.73,36.44 503.62,36.15 505.51,35.60 507.40,35.10" fill="none" stroke="#35b2a4" stroke-width="2.1" stroke-linejoin="round" stroke-linecap="round"/>
<polyline points="295.20,244.10 295.78,241.72 296.36,239.12 296.94,236.93 297.51,235.15 298.09,233.29 298.67,231.54 299.25,229.84 299.83,227.84 300.41,225.93 300.99,224.31 301.57,222.02 303.45,216.67 305.34,211.69 307.23,206.62 309.12,201.94 311.01,197.86 312.90,193.49 314.78,189.73 316.67,185.56 318.56,181.78 320.45,178.12 322.34,174.38 324.23,170.36 326.12,167.29 328.00,163.65 329.89,160.32 331.78,157.28 333.67,154.36 335.56,151.19 337.45,148.13 339.33,144.97 341.22,141.91 343.11,138.68 345.00,135.79 346.89,133.27 348.78,130.70 350.66,127.90 352.55,125.52 354.44,122.99 356.33,120.47 358.22,118.02 360.11,115.90 361.99,113.64 363.88,111.49 365.77,109.43 367.66,107.48 369.55,105.39 371.44,103.22 373.32,101.04 375.21,98.94 377.10,97.01 378.99,95.09 380.88,93.27 382.77,91.87 384.65,89.98 386.54,88.01 388.43,86.14 390.32,84.77 392.21,83.11 394.10,81.52 395.99,80.35 397.87,79.23 399.76,77.73 401.65,76.22 403.54,75.24 405.43,73.58 407.32,71.92 409.20,70.33 411.09,68.78 412.98,67.24 414.87,65.70 416.76,64.56 418.65,63.26 420.53,62.42 422.42,61.17 424.31,60.48 426.20,59.43 428.09,58.51 429.98,57.40 431.86,56.42 433.75,55.06 435.64,54.07 437.53,53.07 439.42,52.12 441.31,51.38 443.19,50.90 445.08,50.13 446.97,49.22 448.86,48.21 450.75,47.34 452.64,46.60 454.53,45.83 456.41,45.37 458.30,45.09 460.19,44.73 462.08,43.97 463.97,43.59 465.86,42.81 467.74,42.16 469.63,41.72 471.52,41.42 473.41,40.68 475.30,40.78 477.19,40.33 479.07,39.76 480.96,39.11 482.85,38.96 484.74,38.54 486.63,38.26 488.52,37.99 490.40,37.75 492.29,37.52 494.18,36.80 496.07,36.58 497.96,36.19 499.85,36.13 501.73,35.78 503.62,35.77 505.51,35.40 507.40,35.10" fill="none" stroke="#95d8d0" stroke-width="2.1" stroke-linejoin="round" stroke-linecap="round"/>
<polyline points="295.20,244.10 295.78,241.84 296.36,239.54 296.94,238.21 297.51,236.34 298.09,234.27 298.67,232.54 299.25,231.02 299.83,228.62 300.41,227.02 300.99,225.55 301.57,224.06 303.45,218.91 305.34,214.20 307.23,209.26 309.12,204.77 311.01,200.26 312.90,196.21 314.78,192.35 316.67,188.32 318.56,184.49 320.45,180.85 322.34,177.21 324.23,173.71 326.12,170.59 328.00,167.24 329.89,164.21 331.78,160.95 333.67,157.68 335.56,154.42 337.45,151.45 339.33,148.37 341.22,145.37 343.11,142.87 345.00,140.60 346.89,137.67 348.78,134.93 350.66,132.50 352.55,129.75 354.44,127.17 356.33,125.25 358.22,123.04 360.11,120.96 361.99,118.59 363.88,116.30 365.77,113.83 367.66,111.40 369.55,108.72 371.44,106.85 373.32,104.52 375.21,102.74 377.10,101.20 378.99,99.54 380.88,97.37 382.77,95.80 384.65,93.72 386.54,91.83 388.43,90.35 390.32,88.89 392.21,86.87 394.10,85.33 395.99,83.65 397.87,81.72 399.76,80.26 401.65,78.79 403.54,77.03 405.43,75.38 407.32,73.87 409.20,72.42 411.09,71.35 412.98,70.38 414.87,69.48 416.76,68.54 418.65,67.04 420.53,65.46 422.42,64.22 424.31,62.75 426.20,61.68 428.09,60.76 429.98,60.07 431.86,59.15 433.75,58.22 435.64,56.97 437.53,55.98 439.42,54.92 441.31,53.86 443.19,52.96 445.08,52.16 446.97,51.17 448.86,50.43 450.75,49.39 452.64,48.47 454.53,47.37 456.41,46.47 458.30,45.49 460.19,44.93 462.08,44.62 463.97,44.16 465.86,43.57 467.74,42.95 469.63,42.88 471.52,42.32 473.41,42.00 475.30,42.03 477.19,41.90 479.07,41.09 480.96,40.67 482.85,40.24 484.74,39.96 486.63,39.77 488.52,39.55 490.40,38.93 492.29,38.82 494.18,38.21 496.07,37.54 497.96,37.02 499.85,36.66 501.73,36.12 503.62,35.63 505.51,35.23 507.40,35.10" fill="none" stroke="#cbeae6" stroke-width="2.1" stroke-linejoin="round" stroke-linecap="round"/>
<rect x="445.1" y="164.20" width="5" height="6.87" fill="#cbeae6"/>
<text x="451.7" y="170.51" font-size="6.26" textLength="58.08" lengthAdjust="spacingAndGlyphs" class="lg">Human HPA RNA−seq</text>
<rect x="445.1" y="171.02" width="5" height="6.87" fill="#95d8d0"/>
<text x="451.7" y="177.33" font-size="6.26" textLength="59.48" lengthAdjust="spacingAndGlyphs" class="lg">Human RNA−seq Atlas</text>
<rect x="445.1" y="177.84" width="5" height="6.87" fill="#35b2a4"/>
<text x="451.7" y="184.15" font-size="6.26" textLength="65.29" lengthAdjust="spacingAndGlyphs" class="lg">Mouse RNA−seq Encode</text>
<rect x="445.1" y="184.66" width="5" height="6.87" fill="#0f9486"/>
<text x="451.7" y="190.97" font-size="6.26" textLength="55.60" lengthAdjust="spacingAndGlyphs" class="lg">Mouse RNA−seq MIT</text>
<rect x="445.1" y="191.48" width="5" height="6.87" fill="#25786c"/>
<text x="451.7" y="197.79" font-size="6.26" textLength="61.74" lengthAdjust="spacingAndGlyphs" class="lg">Rat RNA−seq BodyMap</text>
<rect x="445.1" y="198.30" width="5" height="6.87" fill="#9ccfe0"/>
<text x="451.7" y="204.61" font-size="6.26" textLength="47.22" lengthAdjust="spacingAndGlyphs" class="lg">Rat RNA−seq MIT</text>
<rect x="445.1" y="205.12" width="5" height="6.87" fill="#6fa3d6"/>
<text x="451.7" y="211.43" font-size="6.26" textLength="54.65" lengthAdjust="spacingAndGlyphs" class="lg">Pig RNA−seq Aarhus</text>
<rect x="445.1" y="211.94" width="5" height="6.87" fill="#6e6fb5"/>
<text x="451.7" y="218.25" font-size="6.26" textLength="50.44" lengthAdjust="spacingAndGlyphs" class="lg">Pig RNA−seq WUR</text>
<rect x="445.1" y="218.76" width="5" height="6.87" fill="#946236"/>
<text x="451.7" y="225.07" font-size="6.26" textLength="48.36" lengthAdjust="spacingAndGlyphs" class="lg">Human Exon array</text>
<rect x="445.1" y="225.58" width="5" height="6.87" fill="#c68a4e"/>
<text x="451.7" y="231.89" font-size="6.26" textLength="32.55" lengthAdjust="spacingAndGlyphs" class="lg">Human GNF</text>
<rect x="445.1" y="232.40" width="5" height="6.87" fill="#e5b880"/>
<text x="451.7" y="238.71" font-size="6.26" textLength="31.26" lengthAdjust="spacingAndGlyphs" class="lg">Mouse GNF</text>
<rect x="445.1" y="239.22" width="5" height="6.87" fill="#efd9a5"/>
<text x="451.7" y="245.53" font-size="6.26" textLength="39.00" lengthAdjust="spacingAndGlyphs" class="lg">Mouse GNF v3</text>
<rect x="445.1" y="246.04" width="5" height="6.87" fill="#f6ebd5"/>
<text x="451.7" y="252.35" font-size="6.26" textLength="23.53" lengthAdjust="spacingAndGlyphs" class="lg">Pig Array</text>
</svg></body></html>
